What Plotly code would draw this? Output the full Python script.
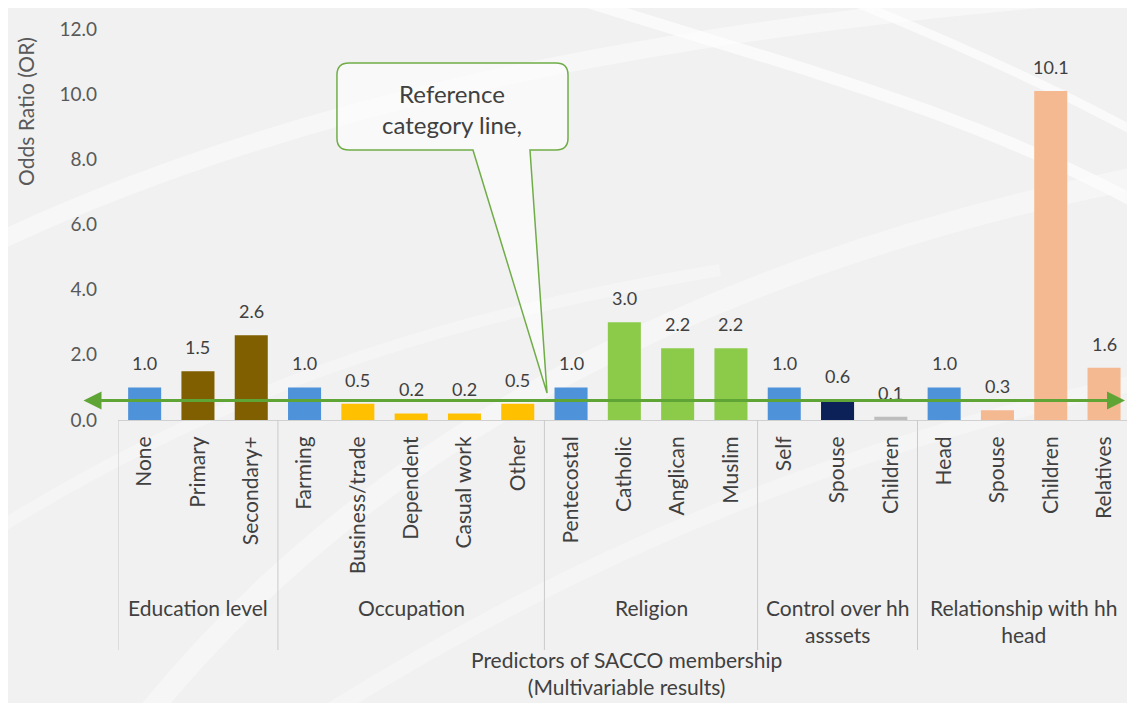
import plotly.graph_objects as go

# ---------------- data ----------------
categories = ["None", "Primary", "Secondary+",
              "Farming", "Business/trade", "Dependent", "Casual work", "Other",
              "Pentecostal", "Catholic", "Anglican", "Muslim",
              "Self", "Spouse", "Children",
              "Head", "Spouse", "Children", "Relatives"]
odds_ratios = [1.0, 1.5, 2.6,
               1.0, 0.5, 0.2, 0.2, 0.5,
               1.0, 3.0, 2.2, 2.2,
               1.0, 0.6, 0.1,
               1.0, 0.3, 10.1, 1.6]
group_labels = ["Education level", "Occupation", "Religion",
                "Control over hh<br>asssets", "Relationship with hh<br>head"]
group_sizes = [3, 5, 4, 3, 4]
y_ticks = [0, 2, 4, 6, 8, 10, 12]
reference_line_value = 0.6

# ---------------- styles ----------------
BLUE, BROWN, GOLD, GREEN = "#4E92DA", "#7F5F00", "#FFC000", "#8CCB4A"
NAVY, GRAY, SALMON = "#0B2157", "#BDBDBD", "#F5B992"
bar_colors = [BLUE, BROWN, BROWN,
              BLUE, GOLD, GOLD, GOLD, GOLD,
              BLUE, GREEN, GREEN, GREEN,
              BLUE, NAVY, GRAY,
              BLUE, SALMON, SALMON, SALMON]
FONT = "Lato"
TXT = "#404040"
OFF = 8                               # page body margin (all sides)
W, H = 1135 - 2 * OFF, 711 - 2 * OFF  # figure size so the page fits exactly
PL, PT, PB = 118, 29, 420             # plot area edges, screen pixels
CAT_W = 53.3                          # category pitch, screen pixels
PR = OFF + W                          # plot area runs to the figure's right edge
ML, MR, MT = PL - OFF, 0, PT - OFF
MB = (OFF + H) - PB
PW, PH = PR - PL, PB - PT


def px2x(sx):
    return (sx - PL) / PW


def py2y(sy):
    return (PB - sy) / PH


x_pos = list(range(len(categories)))
x_max = -0.5 + PW / CAT_W

fig = go.Figure()
fig.add_trace(go.Bar(
    x=x_pos, y=odds_ratios, width=0.62,
    marker=dict(color=bar_colors, line=dict(width=0)),
    hoverinfo="skip", showlegend=False,
))

shapes = []
annotations = []

# soft background swooshes (decorative)
swooshes = [
    ("M -20,250 C 250,120 600,30 1150,-10", 18, 0.45),
    ("M 150,711 C 380,430 720,260 1150,175", 22, 0.4),
    ("M 520,-20 C 760,60 950,100 1150,210", 12, 0.65),
    ("M 330,711 C 620,530 900,430 1150,380", 16, 0.3),
    ("M -20,540 C 200,400 420,320 720,270", 12, 0.35),
    ("M 800,-20 C 950,40 1060,90 1150,140", 9, 0.65),
]
for d, wdt, op in swooshes:
    pts = d.replace("M", "").replace("C", "").split()
    conv = []
    for p in pts:
        a, b = p.split(",")
        conv.append(f"{px2x(float(a)):.4f},{py2y(float(b)):.4f}")
    path = f"M {conv[0]} C {conv[1]} {conv[2]} {conv[3]}"
    shapes.append(dict(type="path", path=path, xref="paper", yref="paper",
                       line=dict(color="white", width=wdt), opacity=op,
                       layer="below"))

# group separators and group labels (from group sizes)
start = 0
bounds = [-0.5]
for size in group_sizes:
    start += size
    bounds.append(start - 0.5)
for b in bounds:
    shapes.append(dict(type="line", xref="x", yref="paper", x0=b, x1=b,
                       y0=0, y1=py2y(650), line=dict(color="#CACACA", width=1)))
for i, lab in enumerate(group_labels):
    annotations.append(dict(x=(bounds[i] + bounds[i + 1]) / 2, xref="x",
                            y=py2y(593), yref="paper", xanchor="center",
                            yanchor="top", text=lab, showarrow=False,
                            font=dict(family=FONT, size=21, color=TXT)))

# value labels
for xi, v in zip(x_pos, odds_ratios):
    annotations.append(dict(x=xi, y=v, xref="x", yref="y", text=f"{v:.1f}",
                            showarrow=False, xanchor="center", yanchor="middle",
                            yshift=24,
                            font=dict(family=FONT, size=18, color=TXT)))

# reference category double-headed arrow line
annotations.append(dict(x=px2x(1125), xref="paper", y=reference_line_value, yref="y",
                        ax=-(1125 - 82), ay=0, axref="pixel", ayref="pixel",
                        text="", showarrow=True, arrowside="end+start",
                        arrowhead=2, arrowsize=1.2, arrowwidth=3,
                        arrowcolor="#5EA536", standoff=0, startstandoff=0))

# callout box
pts = [(349, 63), (556, 63), (568, 63), (568, 75), (568, 138), (568, 150),
       (556, 150), (530, 150), (547, 393), (473, 150), (349, 150),
       (337, 150), (337, 138), (337, 75), (337, 63), (349, 63)]
c = [f"{px2x(a):.4f},{py2y(b):.4f}" for a, b in pts]
callout = (f"M {c[0]} L {c[1]} Q {c[2]} {c[3]} L {c[4]} Q {c[5]} {c[6]} "
           f"L {c[7]} L {c[8]} L {c[9]} L {c[10]} Q {c[11]} {c[12]} "
           f"L {c[13]} Q {c[14]} {c[15]} Z")
shapes.append(dict(type="path", path=callout, xref="paper", yref="paper",
                   line=dict(color="#70AD47", width=1.5),
                   fillcolor="rgba(255,255,255,0.55)", layer="above"))
annotations.append(dict(x=px2x(452), y=py2y(109), xref="paper", yref="paper",
                        xanchor="center", yanchor="middle",
                        text="Reference<br>category line,", showarrow=False,
                        font=dict(family=FONT, size=24, color=TXT)))

# axis titles
annotations.append(dict(x=px2x(25), y=py2y(112), xref="paper", yref="paper",
                        xanchor="center", yanchor="middle",
                        text="Odds Ratio (OR)", textangle=-90, showarrow=False,
                        font=dict(family=FONT, size=21, color="#595959")))
annotations.append(dict(x=px2x(626), y=py2y(673), xref="paper", yref="paper",
                        xanchor="center", yanchor="middle",
                        text="Predictors of SACCO membership<br>(Multivariable results)",
                        showarrow=False,
                        font=dict(family=FONT, size=21, color=TXT)))

fig.update_layout(
    width=W, height=H,
    margin=dict(l=ML, r=MR, t=MT, b=MB, pad=0),
    paper_bgcolor="#F1F1F1", plot_bgcolor="rgba(0,0,0,0)",
    font=dict(family=FONT, color=TXT),
    shapes=shapes, annotations=annotations, showlegend=False,
    xaxis=dict(range=[-0.5, x_max], tickmode="array",
               tickvals=x_pos, ticktext=categories, tickangle=-90,
               showgrid=False, zeroline=False, showline=True,
               linecolor="#D0D0D0", linewidth=1, ticks="",
               ticklabelstandoff=7, automargin=False,
               tickfont=dict(family=FONT, size=21, color=TXT)),
    yaxis=dict(range=[0, 12], tickmode="array", tickvals=y_ticks,
               tickformat=".1f", showgrid=False, zeroline=False,
               showline=False, ticks="", ticklabelstandoff=20,
               automargin=False,
               tickfont=dict(family=FONT, size=19, color="#595959")),
    bargap=0.38,
)

fig.write_html("out.html")
